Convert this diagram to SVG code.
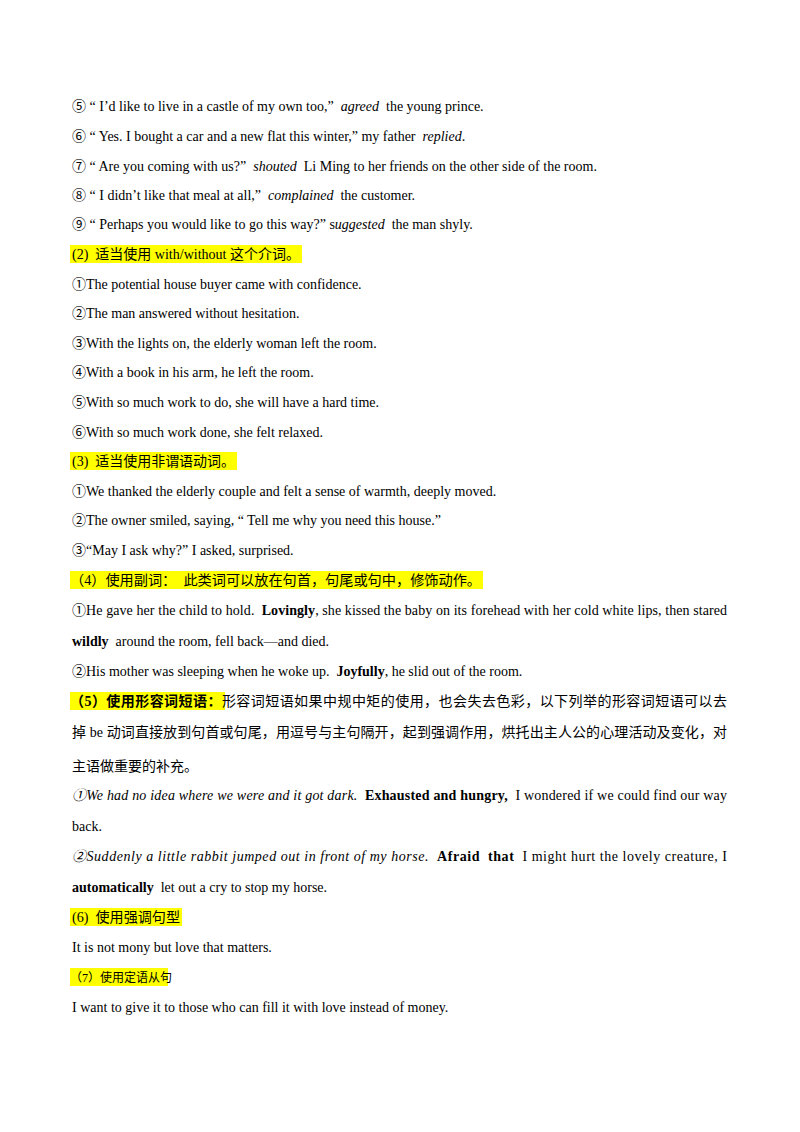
<svg xmlns="http://www.w3.org/2000/svg" width="800" height="1132" viewBox="0 0 800 1132">
<style>
text{font-family:"Liberation Serif","Noto Sans CJK SC",serif;font-size:14px;fill:#000;white-space:pre}
.i{font-style:italic}.b{font-weight:bold}
.hl{fill:#ffff00}
</style>
<rect width="800" height="1132" fill="#fff"/>
<g id="highlights">
<rect class="hl" x="70" y="245" width="232" height="18"/>
<rect class="hl" x="70" y="452" width="167" height="18"/>
<rect class="hl" x="70" y="571" width="413" height="18"/>
<rect class="hl" x="70" y="692" width="155" height="18"/>
<rect class="hl" x="70" y="908" width="112" height="18"/>
<rect class="hl" x="70" y="968" width="98" height="18"/>
</g>
<g id="body">
<text x="72" y="111">⑤ “ I’d like to live in a castle of my own too,”  <tspan class="i">agreed</tspan>  the young prince.</text>
<text x="72" y="141">⑥ “ Yes. I bought a car and a new flat this winter,” my father  <tspan class="i">replied</tspan>.</text>
<text x="72" y="171">⑦ “ Are you coming with us?”  <tspan class="i">shouted</tspan>  Li Ming to her friends on the other side of the room.</text>
<text x="72" y="200">⑧ “ I didn’t like that meal at all,”  <tspan class="i">complained</tspan>  the customer.</text>
<text x="72" y="229">⑨ “ Perhaps you would like to go this way?” s<tspan class="i">uggested</tspan>  the man shyly.</text>
<text x="72" y="259" textLength="228" lengthAdjust="spacingAndGlyphs">(2)  适当使用 with/without 这个介词。</text>
<text x="72" y="289">①The potential house buyer came with confidence.</text>
<text x="72" y="318">②The man answered without hesitation.</text>
<text x="72" y="348">③With the lights on, the elderly woman left the room.</text>
<text x="72" y="377">④With a book in his arm, he left the room.</text>
<text x="72" y="407">⑤With so much work to do, she will have a hard time.</text>
<text x="72" y="437">⑥With so much work done, she felt relaxed.</text>
<text x="72" y="466" textLength="163" lengthAdjust="spacingAndGlyphs">(3)  适当使用非谓语动词。</text>
<text x="72" y="496">①We thanked the elderly couple and felt a sense of warmth, deeply moved.</text>
<text x="72" y="525">②The owner smiled, saying, “ Tell me why you need this house.”</text>
<text x="72" y="555">③“May I ask why?” I asked, surprised.</text>
<text x="70" y="585" textLength="411" lengthAdjust="spacingAndGlyphs">（4）使用副词：  此类词可以放在句首，句尾或句中，修饰动作。</text>
<text x="72" y="615" textLength="655" lengthAdjust="spacing">①He gave her the child to hold.  <tspan class="b">Lovingly</tspan>, she kissed the baby on its forehead with her cold white lips, then stared</text>
<text x="72" y="646"><tspan class="b">wildly</tspan>  around the room, fell back—and died.</text>
<text x="72" y="676">②His mother was sleeping when he woke up.  <tspan class="b">Joyfully</tspan>, he slid out of the room.</text>
<text x="70" y="706" textLength="657" lengthAdjust="spacing"><tspan class="b">（5）使用形容词短语：</tspan>形容词短语如果中规中矩的使用，也会失去色彩，以下列举的形容词短语可以去</text>
<text x="72" y="737" textLength="655" lengthAdjust="spacing">掉 be 动词直接放到句首或句尾，用逗号与主句隔开，起到强调作用，烘托出主人公的心理活动及变化，对</text>
<text x="72" y="771">主语做重要的补充。</text>
<text x="72" y="800" textLength="655" lengthAdjust="spacing"><tspan class="i">①We had no idea where we were and it got dark.</tspan>  <tspan class="b">Exhausted and hungry,</tspan>  I wondered if we could find our way</text>
<text x="72" y="831">back.</text>
<text x="72" y="861" textLength="655" lengthAdjust="spacing"><tspan class="i">②Suddenly a little rabbit jumped out in front of my horse.</tspan>  <tspan class="b">Afraid  that</tspan>  I might hurt the lovely creature, I</text>
<text x="72" y="892"><tspan class="b">automatically</tspan>  let out a cry to stop my horse.</text>
<text x="72" y="922" textLength="108" lengthAdjust="spacingAndGlyphs">(6)  使用强调句型</text>
<text x="72" y="952">It is not mony but love that matters.</text>
<text x="70" y="982" style="font-size:12px">（7）使用定语从句</text>
<text x="72" y="1012">I want to give it to those who can fill it with love instead of money.</text>
</g>
</svg>
